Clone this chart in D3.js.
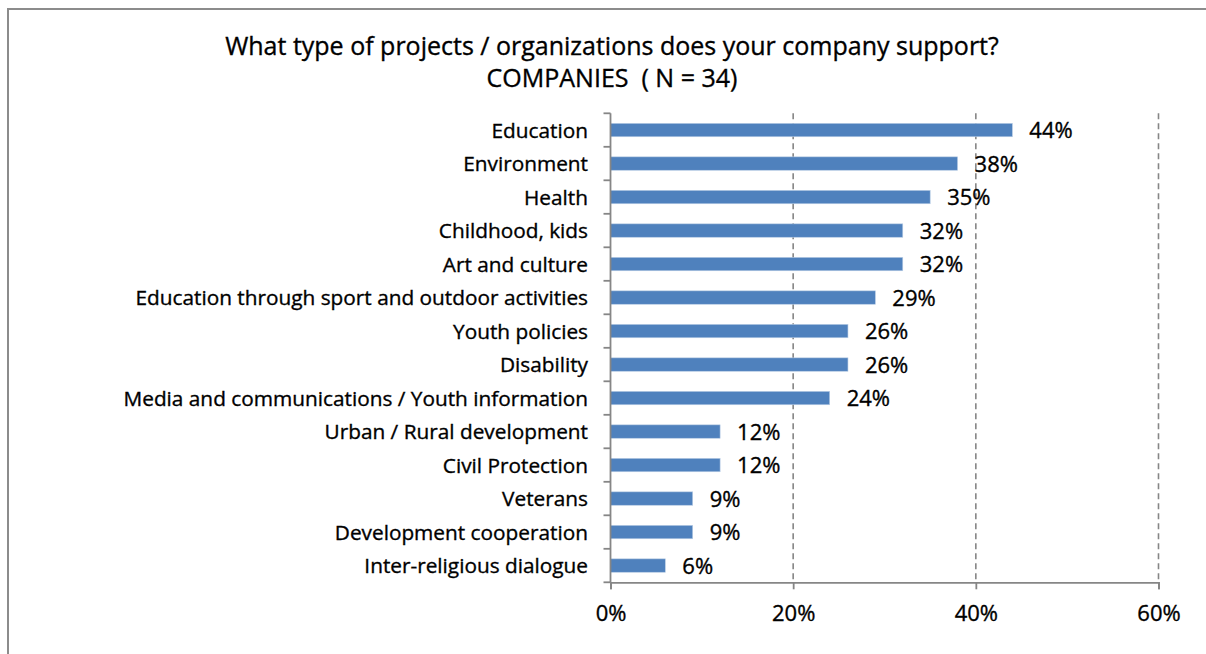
<!DOCTYPE html>
<html>
<head>
<meta charset="utf-8">
<script src="https://cdn.jsdelivr.net/npm/d3@7"></script>
<style>
  html, body { margin: 0; padding: 0; background: #fff; }
  svg { display: block; }
  text {
    font-family: "Open Sans", sans-serif; fill: #000;
    stroke: #000; stroke-width: 0.35px;
    font-variant-ligatures: none; white-space: pre;
  }
</style>
</head>
<body>
<svg id="chart" width="1206" height="654"></svg>
<script>
// Survey answers, share of companies (N = 34)
const categories = [
  "Education",
  "Environment",
  "Health",
  "Childhood, kids",
  "Art and culture",
  "Education through sport and outdoor activities",
  "Youth policies",
  "Disability",
  "Media and communications / Youth information",
  "Urban / Rural development",
  "Civil Protection",
  "Veterans",
  "Development cooperation",
  "Inter-religious dialogue"
];
const shares = [44, 38, 35, 32, 32, 29, 26, 26, 24, 12, 12, 9, 9, 6];
const xTicks = [0, 20, 40, 60];
const titleLines = [
  "What type of projects / organizations does your company support?",
  "COMPANIES  ( N = 34)"
];

const svg = d3.select("#chart");
const axisGray = "#868686";
const barBlue = "#4F81BD";

// outer frame
svg.append("rect")
  .attr("x", 8).attr("y", 9)
  .attr("width", 1210).attr("height", 660)
  .attr("fill", "none").attr("stroke", "#8c8c8c").attr("stroke-width", 2);

const plot = { left: 610.5, right: 1158.5, top: 113.3, bottom: 582.3 };

const x = d3.scaleLinear().domain([0, 60]).range([plot.left, plot.right]);
const y = d3.scaleBand().domain(categories)
  .range([plot.top, plot.bottom])
  .paddingInner(0.6).paddingOuter(0.3);

// title
svg.append("g").selectAll("text").data(titleLines).join("text")
  .attr("x", 612)
  .attr("y", (d, i) => 55 + i * 32)
  .attr("text-anchor", "middle")
  .attr("font-size", 25)
  .text(d => d);

// dashed vertical gridlines
svg.append("g").selectAll("line").data(xTicks.filter(t => t > 0)).join("line")
  .attr("x1", d => x(d)).attr("x2", d => x(d))
  .attr("y1", plot.top).attr("y2", plot.bottom)
  .attr("stroke", axisGray).attr("stroke-width", 1.6)
  .attr("stroke-dasharray", "6,4");

// bars
const dataRows = categories.map((c, i) => ({ c, v: shares[i] }));
svg.append("g").selectAll("rect").data(dataRows).join("rect")
  .attr("x", x(0))
  .attr("y", d => y(d.c))
  .attr("width", d => x(d.v) - x(0))
  .attr("height", y.bandwidth())
  .attr("fill", barBlue)
  .attr("stroke", "#b9cde5").attr("stroke-width", 0.6);

// value labels
svg.append("g").selectAll("text").data(dataRows).join("text")
  .attr("x", d => x(d.v) + 17)
  .attr("y", d => y(d.c) + y.bandwidth() / 2 + 8.3)
  .attr("font-size", 22)
  .text(d => d.v + "%");

// x axis
const xAxis = d3.axisBottom(x).tickValues(xTicks)
  .tickFormat(d => d + "%").tickSize(7).tickPadding(16);
const gx = svg.append("g").attr("transform", `translate(0,${plot.bottom})`).call(xAxis);
gx.select(".domain").attr("stroke", axisGray).attr("stroke-width", 1.8);
gx.selectAll(".tick line").attr("stroke", axisGray).attr("stroke-width", 1.8);
gx.selectAll(".tick text").attr("font-size", 22).attr("font-family", "'Open Sans', sans-serif").attr("fill", "#000");

// y axis: ticks at band boundaries
const step = y.step();
const bounds = d3.range(categories.length + 1).map(i => plot.top + i * step);
svg.append("line")
  .attr("x1", plot.left).attr("x2", plot.left)
  .attr("y1", plot.top).attr("y2", plot.bottom)
  .attr("stroke", axisGray).attr("stroke-width", 1.8);
svg.append("g").selectAll("line").data(bounds).join("line")
  .attr("x1", plot.left - 7).attr("x2", plot.left)
  .attr("y1", d => d).attr("y2", d => d)
  .attr("stroke", axisGray).attr("stroke-width", 1.8);

// category labels
svg.append("g").selectAll("text").data(categories).join("text")
  .attr("x", 588)
  .attr("y", d => y(d) + y.bandwidth() / 2 + 7.5)
  .attr("text-anchor", "end")
  .attr("font-size", 20.8)
  .text(d => d);
</script>
</body>
</html>
